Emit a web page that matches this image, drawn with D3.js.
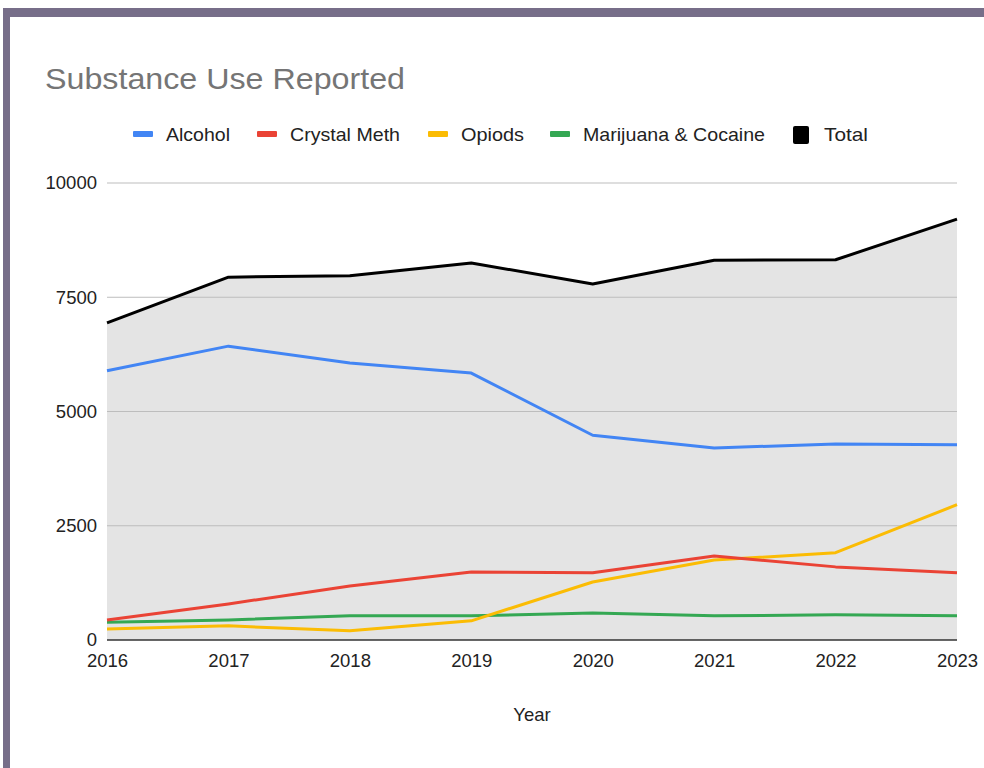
<!DOCTYPE html>
<html>
<head>
<meta charset="utf-8">
<script src="https://cdn.jsdelivr.net/npm/d3@7"></script>
<style>
  html, body { margin: 0; padding: 0; background: #fff; }
  svg { display: block; font-family: "Liberation Sans", Arial, sans-serif; }
</style>
</head>
<body>
<svg id="chart" width="984" height="768"></svg>
<script>
const years = [2016, 2017, 2018, 2019, 2020, 2021, 2022, 2023];
const alcohol = [5890, 6430, 6060, 5840, 4480, 4200, 4290, 4270];
const crystalMeth = [440, 790, 1180, 1490, 1470, 1840, 1600, 1470];
const opiods = [240, 310, 200, 420, 1270, 1750, 1910, 2960];
const marijuanaCocaine = [390, 440, 530, 530, 590, 530, 550, 530];
const total = [6940, 7940, 7970, 8250, 7790, 8310, 8320, 9210];
const yTicks = [0, 2500, 5000, 7500, 10000];
const seriesNames = ["Alcohol", "Crystal Meth", "Opiods", "Marijuana & Cocaine", "Total"];
const seriesColors = ["#4285f4", "#ea4335", "#fbbc04", "#34a853", "#000000"];

const svg = d3.select("#chart");

// frame border
svg.append("rect").attr("x", 3).attr("y", 8).attr("width", 981).attr("height", 9).attr("fill", "#776e89");
svg.append("rect").attr("x", 3).attr("y", 8).attr("width", 7).attr("height", 760).attr("fill", "#776e89");

const x = d3.scaleLinear().domain([2016, 2023]).range([107, 957]);
const y = d3.scaleLinear().domain([0, 10000]).range([640, 183]);

// title
svg.append("text").attr("x", 45).attr("y", 89).attr("font-size", 30).attr("fill", "#757575")
  .attr("textLength", 360).attr("lengthAdjust", "spacingAndGlyphs")
  .text("Substance Use Reported");

// legend
const legendX = [133, 257, 428, 550, 793];
const legendTextW = [64, 110, 63, 182, 44];
seriesNames.forEach((name, i) => {
  const g = svg.append("g");
  if (i < 4) {
    g.append("rect").attr("x", legendX[i]).attr("y", 131).attr("width", 20).attr("height", 6)
      .attr("rx", 1).attr("fill", seriesColors[i]);
  } else {
    g.append("rect").attr("x", legendX[i]).attr("y", 126).attr("width", 16).attr("height", 18)
      .attr("rx", 2).attr("fill", seriesColors[i]);
  }
  g.append("text").attr("x", legendX[i] + (i < 4 ? 33 : 31)).attr("y", 141)
    .attr("font-size", 19).attr("fill", "#222")
    .attr("textLength", legendTextW[i]).attr("lengthAdjust", "spacingAndGlyphs")
    .text(name);
});

// total area
const area = d3.area().x((d, i) => x(years[i])).y0(y(0)).y1(d => y(d));
svg.append("path").datum(total).attr("d", area).attr("fill", "#e4e4e4");

// gridlines
svg.append("g").selectAll("line").data(yTicks.filter(t => t > 0)).join("line")
  .attr("x1", 107).attr("x2", 957).attr("y1", d => y(d)).attr("y2", d => y(d))
  .attr("stroke", "#bdbdbd").attr("stroke-width", 1);

// y axis labels
const yAxis = d3.axisLeft(y).tickValues(yTicks).tickSize(0).tickPadding(10).tickFormat(d3.format("d"));
const gy = svg.append("g").attr("transform", "translate(107,0)").call(yAxis);
gy.select(".domain").remove();
gy.selectAll("text").attr("font-size", 18.5).attr("fill", "#222").attr("font-family", "Liberation Sans, Arial, sans-serif");

// x axis
const xAxis = d3.axisBottom(x).tickValues(years).tickSize(0).tickPadding(14).tickFormat(d3.format("d"));
const gx = svg.append("g").attr("transform", "translate(0,640)").call(xAxis);
gx.select(".domain").remove();
gx.selectAll("text").attr("font-size", 18.5).attr("fill", "#222").attr("font-family", "Liberation Sans, Arial, sans-serif");

// baseline
svg.append("line").attr("x1", 107).attr("x2", 957).attr("y1", y(0)).attr("y2", y(0))
  .attr("stroke", "#333").attr("stroke-width", 1.5);

// lines
const line = d3.line().x((d, i) => x(years[i])).y(d => y(d));
const allSeries = [alcohol, crystalMeth, opiods, marijuanaCocaine, total];
const drawOrder = [3, 2, 1, 0, 4];
drawOrder.forEach(i => {
  svg.append("path").datum(allSeries[i]).attr("d", line).attr("fill", "none")
    .attr("stroke", seriesColors[i]).attr("stroke-width", 3).attr("stroke-linejoin", "round");
});

// x axis title
svg.append("text").attr("x", 532).attr("y", 721).attr("text-anchor", "middle")
  .attr("font-size", 18.5).attr("fill", "#222").text("Year");
</script>
</body>
</html>
